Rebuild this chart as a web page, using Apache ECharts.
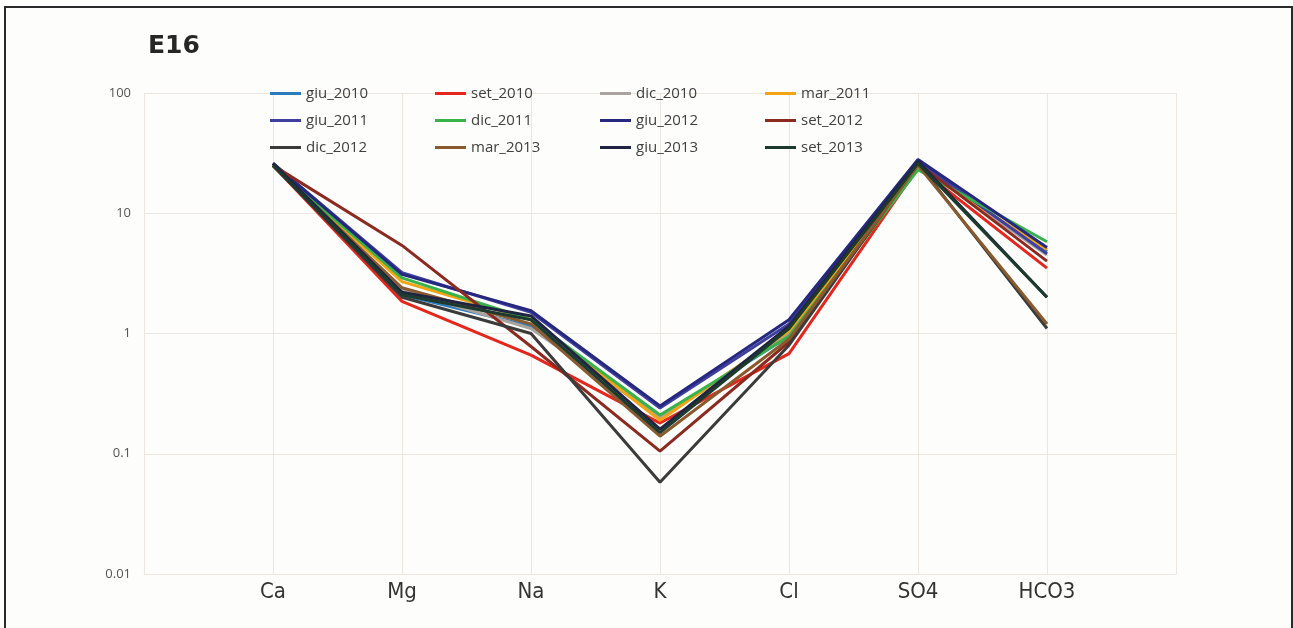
<!DOCTYPE html>
<html>
<head>
<meta charset="utf-8">
<script src="https://cdn.jsdelivr.net/npm/echarts@6/dist/echarts.min.js"></script>
<style>
  html, body { margin: 0; padding: 0; background: #fdfdfb; }
  #frame { position: absolute; left: 4px; top: 6px; width: 1289px; height: 640px; border: 2px solid #2a2a2a; box-sizing: border-box; }
  #chart { position: absolute; left: 0; top: 0; width: 1293px; height: 628px; }
</style>
</head>
<body>
<div id="frame"></div>
<div id="chart"></div>
<script>
// Ions shown along the x axis
const ions = ['Ca', 'Mg', 'Na', 'K', 'Cl', 'SO4', 'HCO3'];

// Sampling campaigns (legend order) and their line colours
const campaigns = ['giu_2010', 'set_2010', 'dic_2010', 'mar_2011',
                   'giu_2011', 'dic_2011', 'giu_2012', 'set_2012',
                   'dic_2012', 'mar_2013', 'giu_2013', 'set_2013'];
const colors = ['#2b7bbd', '#e5261d', '#a8a39e', '#f2a413',
                '#3f3f9e', '#38b24a', '#25287e', '#8c2a20',
                '#3b3b3b', '#8a5a2e', '#1f2442', '#1c3b2e'];

// Concentrations per campaign, one value per ion (Ca, Mg, Na, K, Cl, SO4, HCO3)
const giu_2010 = [25, 2.1, 1.15, 0.20, 0.95, 25, 4.8];
const set_2010 = [25, 1.85, 0.66, 0.18, 0.68, 24, 3.5];
const dic_2010 = [25, 2.3, 1.1, 0.20, 1.0, 25, 4.5];
const mar_2011 = [25, 2.7, 1.3, 0.19, 1.05, 24, 5.0];
const giu_2011 = [26, 3.2, 1.5, 0.24, 1.2, 27, 4.6];
const dic_2011 = [25, 2.9, 1.3, 0.21, 0.95, 23, 5.8];
const giu_2012 = [26, 3.1, 1.55, 0.25, 1.3, 28, 5.2];
const set_2012 = [25, 5.4, 0.78, 0.105, 0.85, 26, 4.0];
const dic_2012 = [25, 2.0, 1.0, 0.058, 0.8, 26, 1.1];
const mar_2013 = [25, 2.4, 1.2, 0.14, 0.9, 25, 1.2];
const giu_2013 = [26, 2.2, 1.4, 0.16, 1.15, 27, 2.0];
const set_2013 = [25, 2.1, 1.3, 0.15, 1.1, 26, 2.0];

const values = [giu_2010, set_2010, dic_2010, mar_2011,
                giu_2011, dic_2011, giu_2012, set_2012,
                dic_2012, mar_2013, giu_2013, set_2013];

// Y-axis tick labels (log scale decades)
const yTicks = ['0.01', '0.1', '1', '10', '100'];

const gridColor = '#ebe6e0';

const series = campaigns.map((name, i) => ({
  name: name,
  type: 'line',
  data: values[i].map((v, j) => [j + 1, v]),
  showSymbol: false,
  symbol: 'none',
  lineStyle: { width: 3, color: colors[i] },
  itemStyle: { color: colors[i] },
  emphasis: { disabled: true },
  z: 2 + i
}));

const chart = echarts.init(document.getElementById('chart'), null, { renderer: 'canvas' });
chart.setOption({
  backgroundColor: 'transparent',
  animation: false,
  title: {
    text: 'E16',
    left: 143,
    top: 29,
    textStyle: { fontFamily: 'DejaVu Sans', fontWeight: 'bold', fontSize: 25, color: '#262626' }
  },
  legend: {
    data: campaigns,
    left: 270,
    top: 80,
    width: 670,
    orient: 'horizontal',
    itemWidth: 31,
    itemHeight: 3,
    itemGap: 0,
    icon: 'rect',
    padding: 0,
    textStyle: { fontFamily: 'Open Sans', fontSize: 15, color: '#404040', width: 129, lineHeight: 27 }
  },
  grid: { left: 144, right: 117, top: 93, bottom: 54, containLabel: false },
  xAxis: {
    type: 'value',
    min: 0,
    max: 8,
    interval: 1,
    axisLine: { show: true, lineStyle: { color: gridColor } },
    axisTick: { show: false },
    splitLine: { show: true, lineStyle: { color: gridColor, width: 1 } },
    axisLabel: {
      margin: 7,
      fontFamily: 'DejaVu Sans Condensed',
      fontSize: 22,
      color: '#333',
      formatter: v => ions[v - 1] || ''
    }
  },
  yAxis: {
    type: 'log',
    logBase: 10,
    min: 0.01,
    max: 100,
    axisLine: { show: false },
    axisTick: { show: false },
    splitLine: { show: true, lineStyle: { color: gridColor, width: 1 } },
    axisLabel: {
      margin: 13,
      fontFamily: 'Open Sans',
      fontSize: 13,
      color: '#555',
      formatter: v => {
        const k = Math.round(Math.log10(v)) + 2;
        return yTicks[k] !== undefined ? yTicks[k] : '';
      }
    }
  },
  series: series
});
</script>
</body>
</html>
